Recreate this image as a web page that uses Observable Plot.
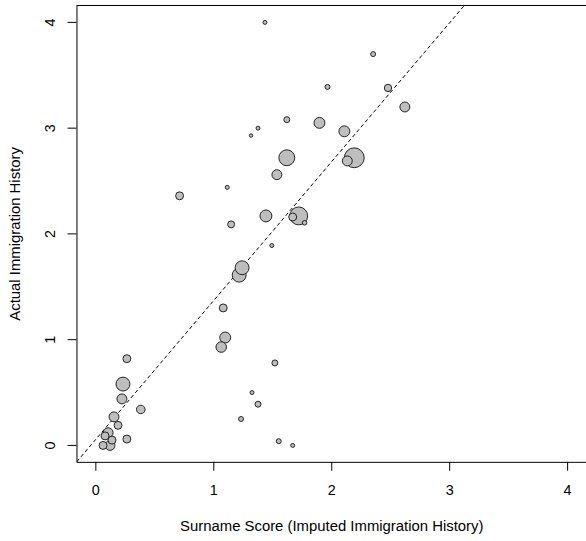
<!DOCTYPE html>
<html>
<head>
<meta charset="utf-8">
<script src="https://cdn.jsdelivr.net/npm/d3@7"></script>
<script src="https://cdn.jsdelivr.net/npm/@observablehq/plot@0.6"></script>
<style>
  html, body { margin: 0; padding: 0; background: #fff; overflow: hidden; }
  #chart svg { display: block; }
</style>
</head>
<body>
<div id="chart"></div>
<script>
// Surname score (imputed) vs actual immigration history
const surnameScore = [1.434, 2.351, 1.964, 2.477, 2.620, 1.619, 1.896, 1.375, 1.316, 2.107,
  1.619, 2.191, 2.132, 1.535, 1.114, 0.710, 1.442, 1.720, 1.669, 1.770,
  1.147, 1.492, 1.215, 1.240, 1.080, 1.097, 1.063, 1.518, 0.263, 0.230,
  0.221, 0.381, 1.324, 1.375, 1.231, 0.154, 0.188, 0.104, 0.078, 0.137,
  0.263, 1.551, 1.669, 0.061, 0.120];
const actualHistory = [4.00, 3.70, 3.39, 3.38, 3.20, 3.08, 3.05, 3.00, 2.93, 2.97,
  2.72, 2.72, 2.69, 2.56, 2.44, 2.36, 2.17, 2.17, 2.16, 2.105,
  2.09, 1.89, 1.61, 1.68, 1.30, 1.02, 0.93, 0.78, 0.82, 0.58,
  0.44, 0.34, 0.50, 0.39, 0.25, 0.27, 0.19, 0.12, 0.09, 0.05,
  0.06, 0.04, 0.00, 0.00, 0.00];
const weight = [2.0, 2.5, 2.5, 3.7, 5.0, 3.0, 5.5, 2.0, 1.7, 5.5,
  8.0, 10.0, 5.0, 5.0, 2.0, 4.0, 6.0, 9.0, 4.0, 2.3,
  3.5, 2.0, 7.0, 7.0, 4.0, 5.5, 5.3, 3.0, 4.0, 7.0,
  5.0, 4.3, 2.0, 3.0, 2.5, 5.0, 4.0, 5.0, 4.0, 4.0,
  4.0, 2.5, 2.0, 4.0, 5.0];

// fitted reference line (dashed)
const fitIntercept = 0.058;
const fitSlope = 1.313;

const xTicks = [0, 1, 2, 3, 4];
const yTicks = [0, 1, 2, 3, 4];
const xTitle = "Surname Score (Imputed Immigration History)";
const yTitle = "Actual Immigration History";

const xDomain = [-0.16, 4.16];
const yDomain = [-0.16, 4.16];

const points = surnameScore.map((x, i) => ({x, y: actualHistory[i], w: weight[i]}));
const fitLine = xDomain.map(x => ({x, y: fitIntercept + fitSlope * x}));

const font = "'Liberation Sans', Arial, Helvetica, sans-serif";

const chart = Plot.plot({
  width: 590,
  height: 541,
  marginLeft: 77,
  marginRight: 0,
  marginTop: 5,
  marginBottom: 76,
  style: {fontFamily: font, fontSize: "14px", color: "#000", background: "#fff"},
  x: {domain: xDomain, axis: null},
  y: {domain: yDomain, axis: null},
  r: {type: "linear", domain: [0, 10], range: [0, 10]},
  marks: [
    Plot.axisX(xTicks, {tickSize: 9, tickPadding: 14, tickFormat: d => String(d), label: null, stroke: "#000", fontSize: 14.5}),
    Plot.axisY(yTicks, {tickSize: 9, tickFormat: () => "", label: null, stroke: "#000"}),
    Plot.text(yTicks, {x: xDomain[0], y: d => d, text: d => String(d), rotate: -90, dx: -27, fontSize: 14.5, fill: "#000"}),
    Plot.line(fitLine, {x: "x", y: "y", stroke: "#000", strokeWidth: 1, strokeDasharray: "3,3.5", clip: true}),
    Plot.dot(points, {x: "x", y: "y", r: "w", fill: "#bebebe", stroke: "#222", strokeWidth: 1}),
    Plot.frame({stroke: "#000", strokeWidth: 1}),
    Plot.text([xTitle], {frameAnchor: "bottom", textAnchor: "middle", lineAnchor: "middle", dy: 64, text: d => d, fontSize: 15, fill: "#000"}),
    Plot.text([yTitle], {frameAnchor: "left", textAnchor: "middle", lineAnchor: "middle", dx: -62, rotate: -90, text: d => d, fontSize: 15, fill: "#000"})
  ]
});
document.getElementById("chart").append(chart);
</script>
</body>
</html>
